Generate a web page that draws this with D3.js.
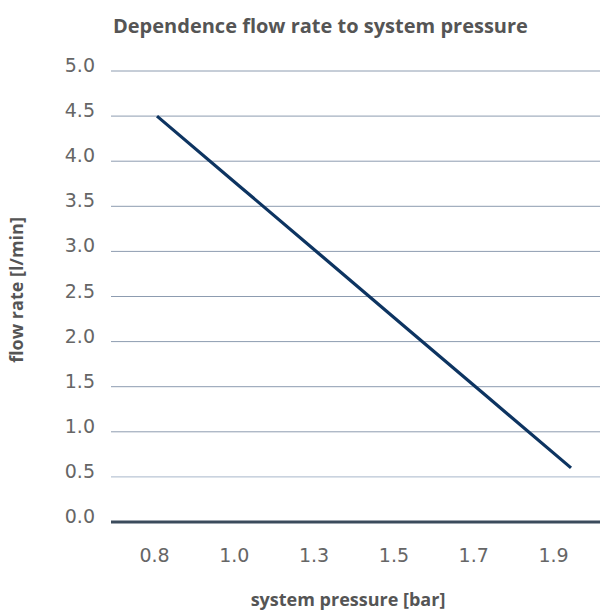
<!DOCTYPE html>
<html>
<head>
<meta charset="utf-8">
<script src="https://cdn.jsdelivr.net/npm/d3@7"></script>
<style>
	body { margin: 0; background: #fff; }
	text { font-family: "Open Sans", "Noto Sans", sans-serif; }
	.tick-label { font-family: "DejaVu Sans", sans-serif; font-weight: normal; }
</style>
</head>
<body>
<div id="chart"></div>
<script>
const W = 601, H = 612;

const pressures = ["0.8", "1.0", "1.3", "1.5", "1.7", "1.9"];
const flowRates = [4.5, 3.72, 2.94, 2.16, 1.38, 0.6];
const yTicks = [0, 0.5, 1, 1.5, 2, 2.5, 3, 3.5, 4, 4.5, 5];

const plot = { left: 111, right: 600, top: 71, bottom: 522 };

const svg = d3.select("#chart").append("svg")
	.attr("width", W)
	.attr("height", H);

const y = d3.scaleLinear().domain([0, 5]).range([plot.bottom, plot.top]);

// labels sit on one set of positions, the line runs a bit wider
const xLabel = d3.scalePoint().domain(pressures).range([154, 553]);
const xLine = d3.scalePoint().domain(pressures).range([157, 571]);

// grid
svg.append("g")
	.selectAll("line")
	.data(yTicks.filter(d => d > 0))
	.enter().append("line")
	.attr("x1", plot.left).attr("x2", plot.right)
	.attr("y1", d => y(d)).attr("y2", d => y(d))
	.attr("stroke", d => d === 0.5 ? "#a9b7ca" : "#8d9cb0")
	.attr("stroke-width", 1);

// y tick labels
svg.append("g")
	.selectAll("text")
	.data(yTicks)
	.enter().append("text")
	.attr("class", "tick-label")
	.attr("x", 95)
	.attr("y", d => y(d) + 1)
	.attr("text-anchor", "end")
	.attr("font-size", "19px")
	.attr("fill", "#666")
	.text(d => d3.format(".1f")(d));

// baseline
svg.append("line")
	.attr("x1", plot.left).attr("x2", plot.right)
	.attr("y1", y(0)).attr("y2", y(0))
	.attr("stroke", "#3b4b5c")
	.attr("stroke-width", 3);

// x axis labels
const xAxis = svg.append("g")
	.attr("transform", `translate(0,${plot.bottom + 26})`)
	.call(d3.axisBottom(xLabel).tickSize(0).tickPadding(0));
xAxis.select(".domain").remove();
xAxis.selectAll("text")
	.attr("class", "tick-label")
	.attr("font-size", "19px")
	.attr("fill", "#666");

// line
const line = d3.line()
	.x((d, i) => xLine(pressures[i]))
	.y(d => y(d));

svg.append("path")
	.datum(flowRates)
	.attr("d", line)
	.attr("fill", "none")
	.attr("stroke", "#0d3461")
	.attr("stroke-width", 3.2);

// titles
svg.append("text")
	.attr("x", 113).attr("y", 33)
	.attr("font-size", "20px")
	.attr("font-weight", "bold")
	.attr("fill", "#555")
	.text("Dependence flow rate to system pressure");

svg.append("text")
	.attr("x", 348).attr("y", 606)
	.attr("text-anchor", "middle")
	.attr("font-size", "18px")
	.attr("font-weight", "bold")
	.attr("fill", "#555")
	.text("system pressure [bar]");

svg.append("text")
	.attr("transform", "translate(23,290) rotate(-90)")
	.attr("text-anchor", "middle")
	.attr("font-size", "18px")
	.attr("font-weight", "bold")
	.attr("fill", "#555")
	.text("flow rate [l/min]");
</script>
</body>
</html>
